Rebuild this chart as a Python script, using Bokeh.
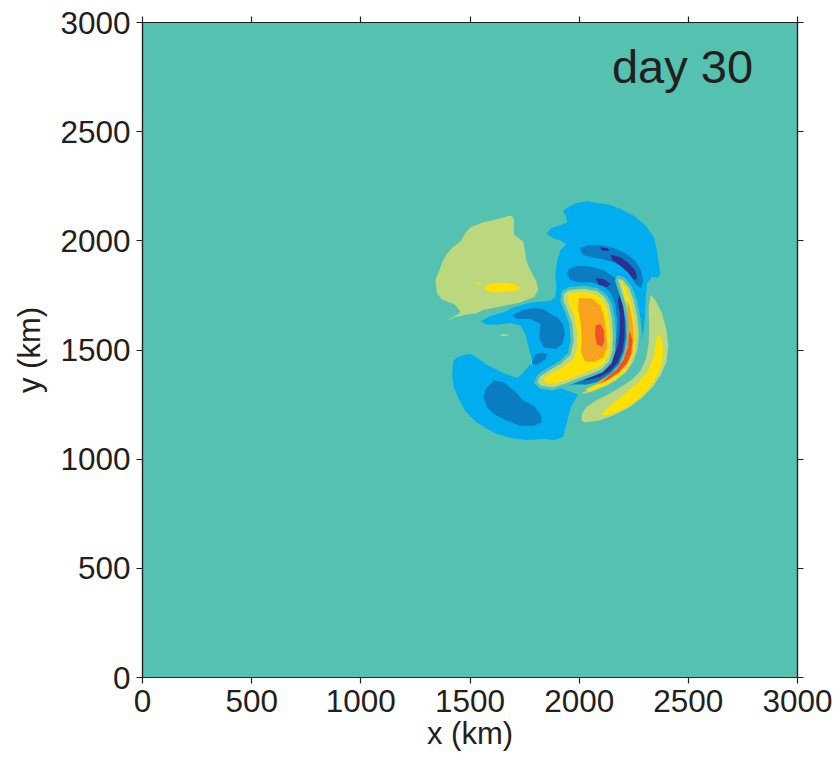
from bokeh.plotting import figure
from bokeh.models import LinearAxis, Label, FixedTicker, Range1d, CustomLabelingPolicy
from bokeh.embed import file_html
from bokeh.resources import INLINE

# Axis ticks (km)
X_TICKS = [0, 500, 1000, 1500, 2000, 2500, 3000]
Y_TICKS = [0, 500, 1000, 1500, 2000, 2500, 3000]

# Filled contour bands, from the deepest negative to the strongest positive
COL_NAVY = "#2C3091"
COL_BLUE = "#0A7CC1"
COL_SKY = "#00AEEF"
COL_ZERO = "#55C1B1"
COL_LIME = "#BBD87F"
COL_YELLOW = "#FFE000"
COL_ORANGE = "#F8A21E"
COL_RED = "#EE5229"

# ---- first negative level (light blue), km ----
sky_core_x = [1548, 1594, 1655, 1701, 1746, 1807, 1869, 1891, 1896, 1891, 1899, 1914, 1942, 1914, 1881,
              1850, 1872, 1914, 1945, 1939, 1924, 1948, 1983, 2037, 2090, 2136, 2189, 2250, 2304, 2342,
              2357, 2365, 2372, 2360, 2334, 2311, 2305, 2302, 2293, 2273, 2247, 2223, 2189, 2143, 2082,
              2021, 1960, 1884, 1823, 1785, 1785, 1769, 1754, 1731, 1685, 1624, 1578]
sky_core_y = [1631, 1656, 1673, 1696, 1711, 1720, 1726, 1744, 1787, 1848, 1909, 1958, 1986, 2001, 2013,
              2032, 2059, 2071, 2085, 2115, 2135, 2154, 2172, 2181, 2172, 2166, 2146, 2115, 2070, 2016,
              1955, 1894, 1848, 1830, 1836, 1806, 1741, 1650, 1573, 1497, 1444, 1418, 1393, 1375, 1357,
              1347, 1337, 1337, 1360, 1398, 1451, 1512, 1573, 1612, 1624, 1616, 1616]
sky_sw_x = [1423, 1441, 1472, 1502, 1533, 1578, 1655, 1716, 1746, 1777, 1800, 1823, 1884, 1960, 1995,
            1978, 1962, 1950, 1938, 1925, 1884, 1838, 1762, 1685, 1624, 1571, 1525, 1479, 1449, 1426,
            1418, 1420]
sky_sw_y = [1448, 1467, 1477, 1482, 1463, 1433, 1393, 1372, 1398, 1436, 1398, 1367, 1337, 1309, 1296,
            1268, 1237, 1192, 1146, 1100, 1088, 1092, 1088, 1097, 1115, 1143, 1173, 1219, 1276, 1329,
            1383, 1421]

# ---- second negative level (blue) ----
blue_sw_x = [1571, 1609, 1655, 1701, 1746, 1792, 1823, 1830, 1792, 1731, 1670, 1609, 1578, 1563]
blue_sw_y = [1321, 1360, 1352, 1314, 1268, 1245, 1207, 1169, 1153, 1153, 1176, 1207, 1237, 1283]
blue_dot_x = [1785, 1800, 1830, 1853, 1846, 1815, 1789]
blue_dot_y = [1451, 1479, 1489, 1482, 1459, 1436, 1433]
blue_mid_x = [1693, 1731, 1792, 1838, 1869, 1899, 1925, 1935, 1922, 1893, 1838, 1815, 1823, 1777, 1716]
blue_mid_y = [1657, 1680, 1692, 1688, 1665, 1650, 1619, 1573, 1528, 1505, 1512, 1558, 1619, 1642, 1642]
blue_outer_x = [2003, 2037, 2098, 2159, 2212, 2258, 2284, 2293, 2281, 2258, 2238, 2205, 2159, 2105, 2052, 2014]
blue_outer_y = [1967, 1980, 1981, 1967, 1943, 1906, 1864, 1818, 1784, 1802, 1841, 1876, 1902, 1917, 1925, 1937]
blue_inner_x = [1953, 1991, 2052, 2113, 2166, 2197, 2212, 2220, 2223, 2217, 2197, 2166, 2128, 2082, 2029,
                1975, 1960, 1998, 2044, 2090, 2128, 2156, 2171, 2174, 2165, 2143, 2105, 2052, 1998, 1960, 1945]
blue_inner_y = [1871, 1886, 1882, 1864, 1830, 1787, 1726, 1650, 1573, 1512, 1451, 1405, 1375, 1352, 1341,
                1344, 1360, 1372, 1387, 1413, 1451, 1497, 1558, 1634, 1711, 1764, 1795, 1810, 1810, 1821, 1848]

# ---- third negative level (navy) ----
navy_a_x = [2095, 2128, 2140, 2105]
navy_a_y = [1970, 1967, 1955, 1955]
navy_b_x = [2143, 2189, 2227, 2258, 2266, 2250, 2223, 2189, 2151]
navy_b_y = [1937, 1925, 1897, 1864, 1825, 1821, 1856, 1886, 1912]
navy_c_x = [2075, 2113, 2143, 2128, 2090]
navy_c_y = [1830, 1825, 1802, 1787, 1799]
navy_arc_x = [2186, 2201, 2208, 2208, 2198, 2177, 2143, 2098, 2044, 1998, 2021, 2075, 2120, 2156, 2177,
              2186, 2186, 2177]
navy_arc_y = [1757, 1711, 1634, 1558, 1497, 1444, 1405, 1378, 1363, 1360, 1378, 1398, 1424, 1467, 1520,
              1589, 1665, 1726]

# ---- first positive level (lime) ----
lime_nw_x = [1693, 1708, 1708, 1731, 1749, 1759, 1765, 1785, 1810, 1820, 1800, 1731, 1639, 1563, 1533,
             1472, 1426, 1388, 1368, 1380, 1410, 1449, 1426, 1365, 1342, 1334, 1352, 1368, 1388, 1413,
             1453, 1472, 1502, 1563, 1632]
lime_nw_y = [2126, 2100, 2031, 2016, 2001, 1955, 1909, 1864, 1818, 1775, 1738, 1711, 1692, 1677, 1662,
             1653, 1642, 1622, 1613, 1631, 1653, 1673, 1703, 1726, 1760, 1821, 1864, 1909, 1943, 1973,
             2004, 2039, 2070, 2093, 2108]
lime_spot_x = [1627, 1647, 1678, 1688, 1670, 1639]
lime_spot_y = [1570, 1580, 1578, 1569, 1558, 1558]
lime_hook_x = [1925, 1955, 2021, 2082, 2120, 2143, 2156, 2162, 2159, 2143, 2105, 2052, 1991, 1930, 1876,
               1823, 1800, 1815, 1861, 1914, 1955, 1968, 1962, 1940, 1920]
lime_hook_y = [1764, 1782, 1787, 1777, 1749, 1711, 1650, 1573, 1497, 1444, 1405, 1383, 1360, 1337, 1321,
               1329, 1352, 1383, 1413, 1444, 1482, 1543, 1619, 1680, 1726]
lime_arc_x = [2177, 2205, 2235, 2258, 2273, 2281, 2273, 2250, 2217, 2174, 2120, 2059, 2014, 2003, 2052,
              2105, 2151, 2189, 2212, 2223, 2220, 2208, 2186, 2171]
lime_arc_y = [1836, 1825, 1787, 1726, 1650, 1573, 1497, 1436, 1390, 1357, 1326, 1302, 1291, 1306, 1329,
              1357, 1390, 1433, 1489, 1558, 1634, 1703, 1772, 1818]
lime_outer_x = [2327, 2354, 2385, 2406, 2415, 2406, 2380, 2342, 2293, 2232, 2162, 2090, 2021, 2003, 2006,
                2029, 2075, 2136, 2189, 2235, 2273, 2299, 2311, 2314, 2311, 2319]
lime_outer_y = [1764, 1734, 1673, 1596, 1520, 1444, 1383, 1326, 1276, 1230, 1195, 1169, 1161, 1176, 1210,
                1245, 1276, 1305, 1337, 1367, 1405, 1459, 1528, 1604, 1696, 1744]

# ---- second positive level (yellow) ----
yellow_nw_x = [1563, 1586, 1639, 1701, 1734, 1716, 1655, 1594, 1571]
yellow_nw_y = [1787, 1801, 1809, 1802, 1784, 1772, 1764, 1764, 1775]
yellow_fleck_x = [1522, 1550, 1555, 1525]
yellow_fleck_y = [1809, 1808, 1801, 1800]
yellow_hook_x = [1950, 2006, 2067, 2105, 2128, 2140, 2143, 2137, 2113, 2067, 2014, 1953, 1891, 1846, 1835,
                 1869, 1925, 1975, 1990, 1990, 1975, 1950]
yellow_hook_y = [1760, 1766, 1759, 1734, 1688, 1619, 1543, 1482, 1436, 1413, 1390, 1367, 1347, 1347, 1367,
                 1390, 1421, 1459, 1512, 1589, 1665, 1718]
yellow_arc_x = [2189, 2212, 2235, 2250, 2258, 2253, 2232, 2197, 2151, 2098, 2044, 2029, 2082, 2136, 2182,
                2212, 2232, 2235, 2227, 2208]
yellow_arc_y = [1815, 1787, 1726, 1650, 1573, 1497, 1436, 1390, 1357, 1329, 1309, 1320, 1344, 1375, 1413,
                1467, 1528, 1604, 1680, 1749]
yellow_outer_x = [2360, 2376, 2385, 2379, 2350, 2304, 2243, 2182, 2116, 2104, 2143, 2205, 2263, 2311, 2342, 2351]
yellow_outer_y = [1576, 1550, 1505, 1436, 1367, 1306, 1253, 1219, 1198, 1210, 1245, 1296, 1344, 1398, 1467, 1535]

# ---- third positive level (orange) ----
orange_hook_x = [1998, 2059, 2098, 2116, 2125, 2128, 2110, 2067, 2025, 2008, 2012, 2006, 1995]
orange_hook_y = [1738, 1736, 1703, 1642, 1573, 1512, 1466, 1444, 1451, 1497, 1558, 1634, 1688]
orange_arc_x = [2220, 2232, 2244, 2250, 2244, 2220, 2186, 2136, 2082, 2090, 2143, 2182, 2208, 2223, 2227, 2220]
orange_arc_y = [1726, 1696, 1634, 1558, 1489, 1436, 1398, 1364, 1340, 1357, 1387, 1424, 1474, 1535, 1612, 1680]

# ---- fourth positive level (red) ----
red_hook_x = [2075, 2098, 2113, 2116, 2105, 2082, 2073]
red_hook_y = [1612, 1619, 1589, 1543, 1515, 1525, 1566]
red_arc_x = [2232, 2244, 2238, 2217, 2182, 2136, 2098, 2128, 2174, 2205, 2223, 2227]
red_arc_y = [1589, 1543, 1482, 1436, 1398, 1367, 1347, 1375, 1413, 1459, 1512, 1558]

# draw order: outer bands first, inner bands painted over them
bands = [
    (COL_SKY, [(sky_core_x, sky_core_y), (sky_sw_x, sky_sw_y)], False),
    (COL_BLUE, [(blue_sw_x, blue_sw_y), (blue_dot_x, blue_dot_y), (blue_mid_x, blue_mid_y),
                (blue_outer_x, blue_outer_y), (blue_inner_x, blue_inner_y)], False),
    (COL_NAVY, [(navy_a_x, navy_a_y), (navy_b_x, navy_b_y), (navy_c_x, navy_c_y),
                (navy_arc_x, navy_arc_y)], False),
    (COL_LIME, [(lime_nw_x, lime_nw_y), (lime_spot_x, lime_spot_y), (lime_hook_x, lime_hook_y),
                (lime_arc_x, lime_arc_y), (lime_outer_x, lime_outer_y)], True),
    (COL_YELLOW, [(yellow_nw_x, yellow_nw_y), (yellow_fleck_x, yellow_fleck_y),
                  (yellow_hook_x, yellow_hook_y), (yellow_arc_x, yellow_arc_y),
                  (yellow_outer_x, yellow_outer_y)], False),
    (COL_ORANGE, [(orange_hook_x, orange_hook_y), (orange_arc_x, orange_arc_y)], False),
    (COL_RED, [(red_hook_x, red_hook_y), (red_arc_x, red_arc_y)], False),
]

FONT = "Liberation Sans"
INK = "#231F20"

p = figure(frame_width=655, frame_height=655,
           min_border_left=142, min_border_right=38, min_border_top=22, min_border_bottom=83,
           x_range=Range1d(0, 3000), y_range=Range1d(0, 3000),
           x_axis_label="x (km)", y_axis_label="y (km)",
           output_backend="svg", toolbar_location=None,
           background_fill_color=COL_ZERO, border_fill_color="white")
p.grid.visible = False
p.outline_line_color = INK
p.outline_line_width = 1.2

for color, shapes, edged in bands:
    xs = [s[0] for s in shapes]
    ys = [s[1] for s in shapes]
    if edged:
        # zero band separating positive from negative lobes
        p.patches(xs=xs, ys=ys, fill_color=color, line_color=COL_ZERO, line_width=3)
    else:
        p.patches(xs=xs, ys=ys, fill_color=color, line_color=None)

# mirrored tick marks on the top and right edges, without labels
no_labels = CustomLabelingPolicy(code="""
for (const i of [...indices])
  indices.unset(i)
""")
p.add_layout(LinearAxis(major_label_policy=no_labels), "above")
p.add_layout(LinearAxis(major_label_policy=no_labels), "right")

for ax in p.axis:
    ax.axis_line_color = INK
    ax.axis_line_width = 1.2
    ax.major_tick_line_color = INK
    ax.major_tick_line_width = 1.2
    ax.major_tick_out = 6
    ax.major_tick_in = 0
    ax.minor_tick_out = 0
    ax.minor_tick_in = 0
    ax.major_label_text_font = FONT
    ax.major_label_text_font_size = "31.5px"
    ax.major_label_text_color = INK
    ax.axis_label_text_font = FONT
    ax.axis_label_text_font_size = "31px"
    ax.axis_label_text_font_style = "normal"
    ax.axis_label_text_color = INK

for ax in (p.above[0], p.right[0]):
    ax.major_label_text_font_size = "0px"
    ax.major_label_standoff = 0

p.xaxis.ticker = FixedTicker(ticks=X_TICKS)
p.yaxis.ticker = FixedTicker(ticks=Y_TICKS)
p.below[0].major_label_standoff = 6
p.left[0].major_label_standoff = 6
p.below[0].axis_label_standoff = 1
p.left[0].axis_label_standoff = 10

p.add_layout(Label(x=2150, y=2800, text="day 30", text_font=FONT, text_font_size="47px",
                   text_color=INK, text_baseline="alphabetic"))

open("out.html", "w").write(file_html(p, INLINE))
